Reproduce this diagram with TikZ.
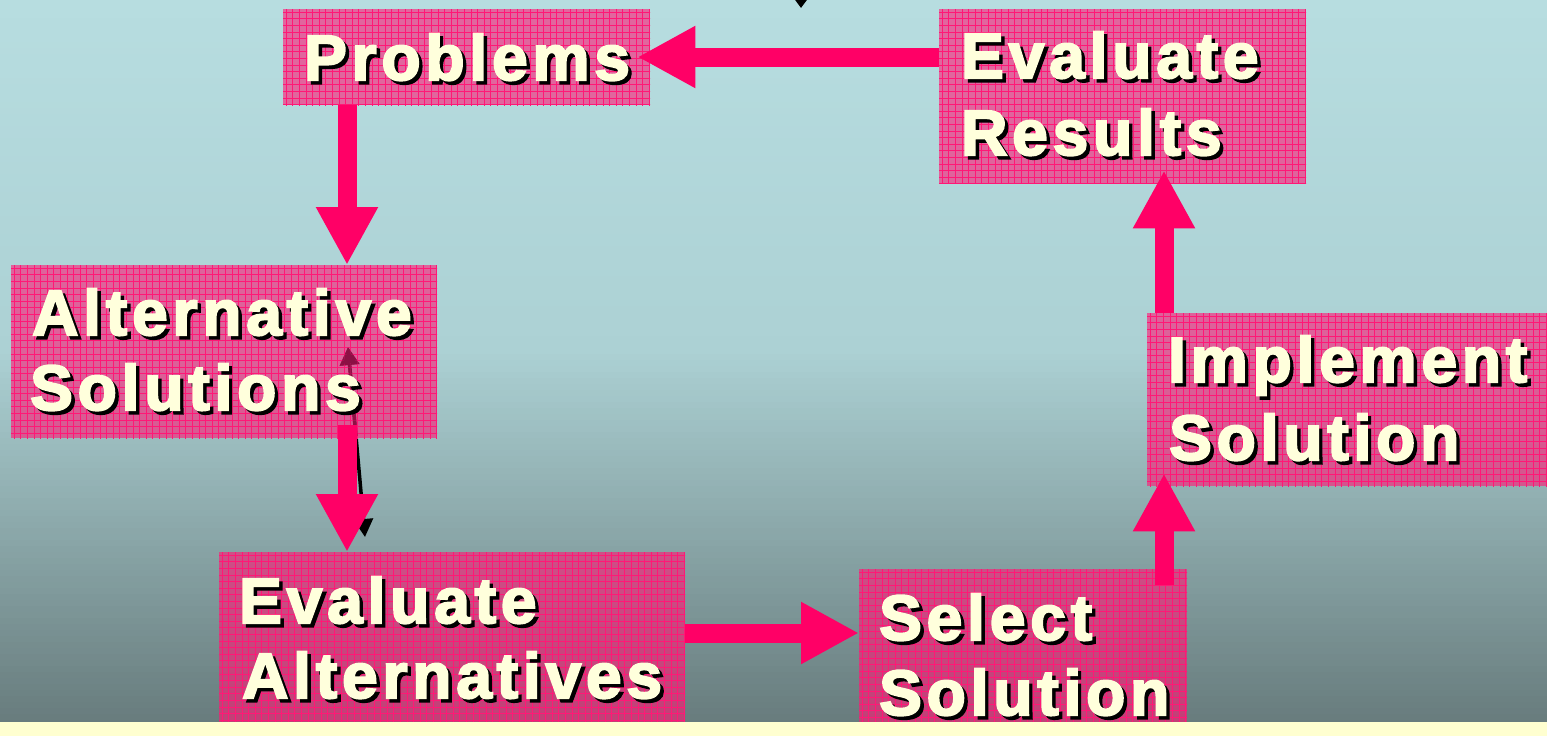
\documentclass[tikz,border=0pt]{standalone}
\usepackage{fontspec}
\setmainfont{Liberation Sans}
\newfontfamily\boxfont[LetterSpace=7.6,FakeBold=3.2]{Liberation Sans}
\usetikzlibrary{arrows.meta,calc}
\definecolor{bgtop}{RGB}{183,221,224}
\definecolor{bgmid}{RGB}{172,209,212}
\definecolor{bgbot}{RGB}{104,124,125}
\definecolor{boxpink}{RGB}{255,23,115}
\definecolor{gridpink}{RGB}{255,24,118}
\definecolor{arrowpink}{RGB}{255,0,102}
\definecolor{cream}{RGB}{255,255,220}
\definecolor{strip}{RGB}{255,255,208}
\definecolor{darkmag}{RGB}{140,16,68}
\newcommand\boxlabel[4]{%
  \node[labeltxt] (#1) at (#2,#3) {\rlap{\hspace{3.5pt}\raisebox{-3.5pt}{\color{black}#4}}#4};}
\tikzset{
  gridline/.style={gridpink, line width=1pt, draw opacity=1},
  stepbox/.style={draw=none, fill=boxpink, fill opacity=0.6, inner sep=0, anchor=north west,
    path picture={
      \foreach \k in {0,...,70}{
        \draw[gridline] ($(path picture bounding box.north west)+(\k*6.6+3,-5)$) -- ++(0,300);
        \draw[gridline] ($(path picture bounding box.north west)+(-5,\k*6.6+3)$) -- ++(500,0);
      }}},
  labeltxt/.style={font=\boxfont\bfseries\fontsize{64}{64}\selectfont, text=cream, anchor=base west, inner sep=0},
  parrow/.style={draw=arrowpink, line width=19pt, -{Triangle[length=58pt, width=58pt, fill=arrowpink]}},
  blk/.style={draw=black, line width=3.5pt},
}
\begin{document}
\begin{tikzpicture}[x=1pt, y=-1pt]
\useasboundingbox (0,0) rectangle (1547,736);
\clip (0,0) rectangle (1547,736);
% background gradient
\foreach \i in {0,...,58}{
  \pgfmathtruncatemacro\p{100-100*\i/58}
  \fill[bgtop!\p!bgmid] (0,\i*6) rectangle (1547,\i*6+6.6);
}
\foreach \i in {0,...,62}{
  \pgfmathtruncatemacro\p{100-100*\i/62}
  \fill[bgmid!\p!bgbot] (0,348+\i*6) rectangle (1547,348+\i*6+6.6);
}
% black arrows (behind the boxes)
\coordinate (bkin) at (801,-40);
\coordinate (bktip) at (801,8);
\draw[blk, -{Triangle[length=10pt, width=14pt]}] (bkin) -- (bktip);
\coordinate (bka) at (348,347);
\coordinate (bkb) at (365,537);
\draw[blk, {Triangle[length=18pt, width=19pt]}-{Triangle[length=18pt, width=19pt]}] (bka) -- (bkb);
% boxes
\node[stepbox, minimum width=367pt, minimum height=96pt] (pb) at (283,9) {};
\node[stepbox, minimum width=367pt, minimum height=174pt] (er) at (939,9) {};
\node[stepbox, minimum width=426pt, minimum height=173pt] (as) at (11,265) {};
\node[stepbox, minimum width=402pt, minimum height=173pt] (is) at (1147,313) {};
\node[stepbox, minimum width=466pt, minimum height=180pt] (ea) at (219,552) {};
\node[stepbox, minimum width=328pt, minimum height=165pt] (ss) at (859,569) {};
% part of the dark arrow seen through the box
\draw[draw=darkmag, draw opacity=0.75, line width=3.5pt, {Triangle[length=18pt, width=19pt, fill=darkmag]}-] (bka) -- ($(bka)!0.47!(bkb)$);
% bottom strip
\fill[strip] (0,722) rectangle (1547,736);
% labels
\boxlabel{tpb}{304}{80}{Problems}
\boxlabel{ter1}{961}{78}{Evaluate}
\boxlabel{ter2}{961}{155}{Results}
\boxlabel{tas1}{32}{335}{Alternative}
\boxlabel{tas2}{30}{410}{Solutions}
\boxlabel{tis1}{1168}{382}{Implement}
\boxlabel{tis2}{1169}{460}{Solution}
\boxlabel{tea1}{239}{623}{Evaluate}
\boxlabel{tea2}{242}{698}{Alternatives}
\boxlabel{tss1}{879}{640}{Select}
\boxlabel{tss2}{879}{715}{Solution}
% pink arrows
\draw[parrow, shorten >=-13pt] (er.west |- 0,57) -- (pb.east |- 0,57);
\draw[parrow] (347,0 |- pb.south) -- (347,0 |- as.north);
\draw[parrow, shorten <=-13pt] (347,0 |- as.south) -- (347,0 |- ea.north);
\draw[parrow] (ea.east |- 0,633) -- (ss.west |- 0,633);
\draw[parrow, shorten <=-16pt, shorten >=-13pt] (1164,0 |- ss.north) -- (1164,0 |- is.south);
\draw[parrow, shorten >=-13pt] (1164,0 |- is.north) -- (1164,0 |- er.south);
\end{tikzpicture}
\end{document}
